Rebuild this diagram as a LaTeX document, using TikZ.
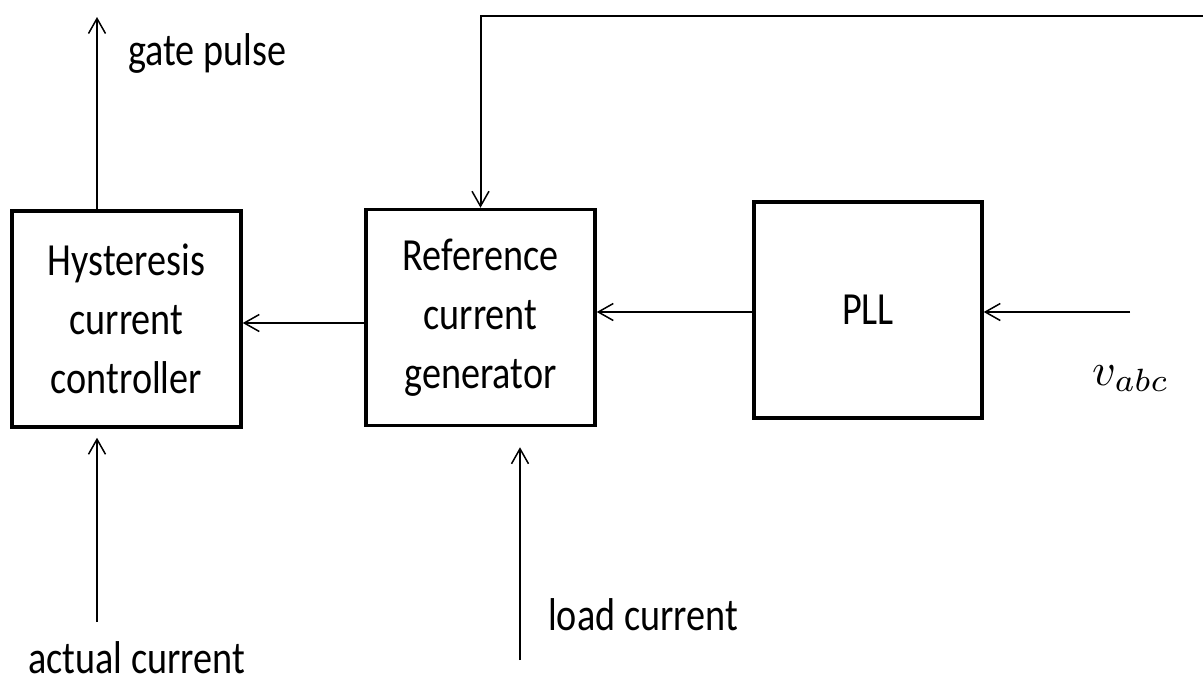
\documentclass[tikz,border=0pt]{standalone}
\usepackage{graphicx}
\usepackage{fontspec}
\setmainfont[FakeStretch=0.83]{Carlito}
\usetikzlibrary{arrows.meta}
\tikzset{
  blk/.style={draw, line width=3.5pt, minimum width=229pt, minimum height=216pt, inner sep=0pt, align=center, font=\fontsize{46}{59}\selectfont},
  lbl/.style={anchor=base west, inner sep=0pt, font=\fontsize{46}{56}\selectfont},
  arr/.style={line width=1.5pt, -{Straight Barb[length=15pt,width=17pt,line width=1.5pt]}},
}
\begin{document}
\begin{tikzpicture}[x=1pt,y=-1pt]
\useasboundingbox (0,0) rectangle (1203,686);
\node[blk] (hyst) at (126.5,319) {Hysteresis\\current\\controller};
\node[blk] (ref) at (480.5,317.5) {Reference\\current\\generator};
\node[blk, minimum width=228pt] (pll) at (868,310) {PLL};
\coordinate (gp) at (97,17);
\coordinate (ac) at (97,622);
\coordinate (lc) at (520,660);
\coordinate (vin) at (1130,312);
\coordinate (fb) at (1203,16);
\node[lbl] (gptext) at (128,65) {gate pulse};
\node[lbl] (actext) at (28,673) {actual current};
\node[lbl] (lctext) at (548,630) {load current};
\node[lbl, font=\normalsize] (vtext) at (1092,385) {\scalebox{4.6}{$v_{abc}$}};
\draw[arr] (hyst.north -| gp) -- (gp);
\draw[arr, shorten >=9pt] (ac) -- (hyst.south -| ac);
\draw[arr, shorten >=20pt] (lc) -- (ref.south -| lc);
\draw[arr] (ref.west |- 0,323) -- (hyst.east |- 0,323);
\draw[arr] (pll.west |- vin) -- (ref.east |- vin);
\draw[arr] (vin) -- (pll.east |- vin);
\draw[arr, line width=2pt] (fb) -- (fb -| ref.north) -- (ref.north);
\end{tikzpicture}
\end{document}
